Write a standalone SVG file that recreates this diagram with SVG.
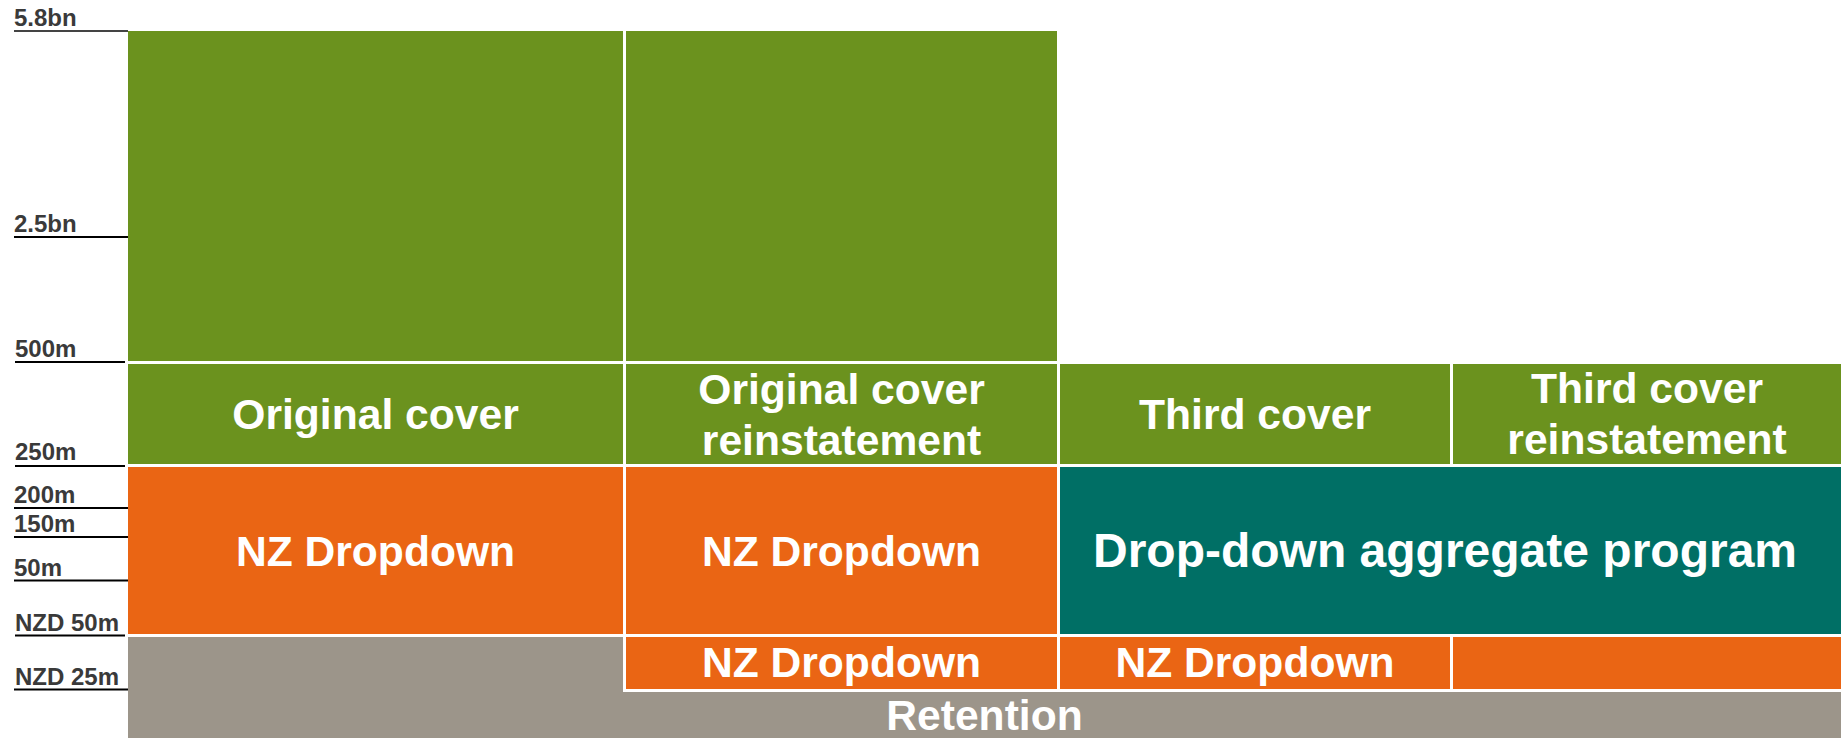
<svg xmlns="http://www.w3.org/2000/svg" width="1841" height="738" viewBox="0 0 1841 738">
<style>
.g{fill:#6B921E}
.o{fill:#EA6514}
.t{fill:#006F65}
.r{fill:#9C958A}
.lb{font-family:"Liberation Sans",Arial,sans-serif;font-weight:bold;fill:#FFFFFF;text-anchor:middle;font-size:42.6px}
.ax{font-family:"Liberation Sans",Arial,sans-serif;font-weight:bold;fill:#3A3A3A;font-size:24px}
.tick{stroke:#000;stroke-width:2}
</style>
<rect width="1841" height="738" fill="#FFFFFF"/>
<g id="axis">
<line class="tick" x1="14" y1="31" x2="128" y2="31" style="stroke:#444"/>
<text class="ax" x="14" y="26">5.8bn</text>
<line class="tick" x1="14" y1="237" x2="128" y2="237"/>
<text class="ax" x="14" y="232">2.5bn</text>
<line class="tick" x1="15" y1="362" x2="125" y2="362"/>
<text class="ax" x="15" y="357">500m</text>
<line class="tick" x1="15" y1="466" x2="125" y2="466"/>
<text class="ax" x="15" y="460">250m</text>
<line class="tick" x1="14" y1="508" x2="128" y2="508"/>
<text class="ax" x="14" y="503">200m</text>
<line class="tick" x1="14" y1="537" x2="128" y2="537"/>
<text class="ax" x="14" y="532">150m</text>
<line class="tick" x1="14" y1="580.5" x2="128" y2="580.5"/>
<text class="ax" x="14" y="576">50m</text>
<line class="tick" x1="15" y1="635.5" x2="125" y2="635.5"/>
<text class="ax" x="15" y="631">NZD 50m</text>
<line class="tick" x1="14" y1="689.5" x2="128" y2="689.5"/>
<text class="ax" x="15" y="685">NZD 25m</text>
</g>
<g id="connectors"></g>
<g id="top-col1"><rect class="g" x="128" y="31" width="495" height="330"/></g>
<g id="top-col2"><rect class="g" x="626" y="31" width="431" height="330"/></g>
<g id="original-cover"><rect class="g" x="128" y="364" width="495" height="100"/><text class="lb" x="375.5" y="429">Original cover</text></g>
<g id="original-cover-reinstatement"><rect class="g" x="626" y="364" width="431" height="100"/><text class="lb" x="841.5" y="404">Original cover</text><text class="lb" x="841.5" y="455">reinstatement</text></g>
<g id="third-cover"><rect class="g" x="1060" y="364" width="390" height="100"/><text class="lb" x="1255" y="429">Third cover</text></g>
<g id="third-cover-reinstatement"><rect class="g" x="1453" y="364" width="388" height="100"/><text class="lb" x="1647" y="403">Third cover</text><text class="lb" x="1647" y="454">reinstatement</text></g>
<g id="nz-dropdown-1"><rect class="o" x="128" y="467" width="495" height="167"/><text class="lb" x="375.5" y="566">NZ Dropdown</text></g>
<g id="nz-dropdown-2"><rect class="o" x="626" y="467" width="431" height="167"/><text class="lb" x="841.5" y="566">NZ Dropdown</text></g>
<g id="aggregate"><rect class="t" x="1060" y="467" width="781" height="167"/><text class="lb" x="1445" y="567" style="font-size:48px">Drop-down aggregate program</text></g>
<g id="nz-dropdown-3"><rect class="o" x="626" y="637" width="431" height="52"/><text class="lb" x="841.5" y="677">NZ Dropdown</text></g>
<g id="nz-dropdown-4"><rect class="o" x="1060" y="637" width="390" height="52"/><text class="lb" x="1255" y="677">NZ Dropdown</text></g>
<g id="dropdown-5"><rect class="o" x="1453" y="637" width="388" height="52"/></g>
<g id="retention"><path class="r" d="M128 637H623V692H1841V738H128Z"/><text class="lb" x="984.5" y="730">Retention</text></g>
</svg>
